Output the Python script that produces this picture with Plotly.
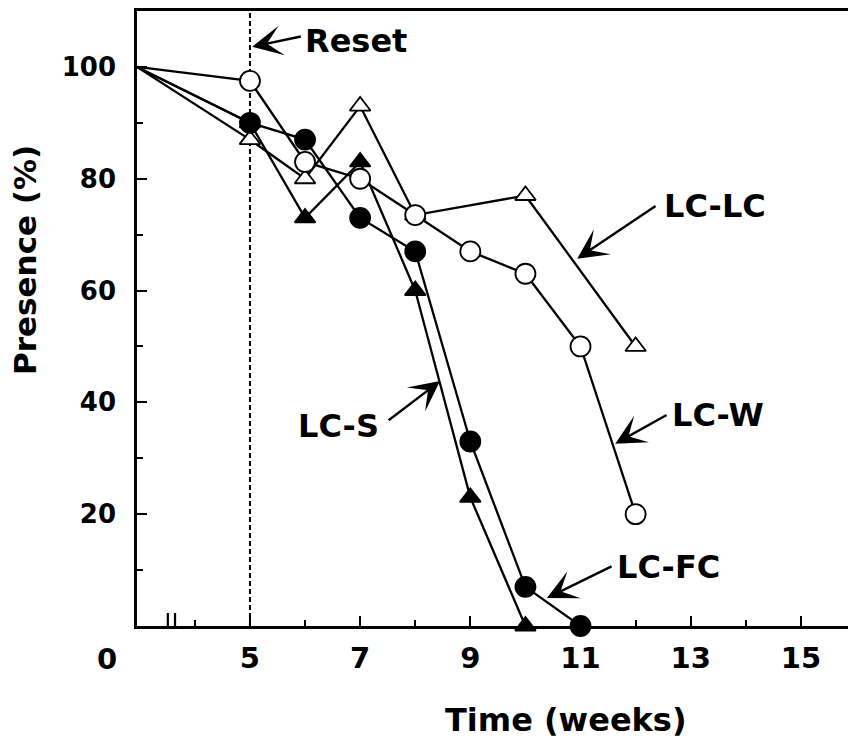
import plotly.graph_objects as go

# time in weeks (0 is drawn at the start of the broken axis)
weeks_w = [0, 5, 6, 7, 8, 9, 10, 11, 12]
lc_w = [100, 97.5, 83, 80, 73.5, 67, 63, 50, 20]

weeks_fc = [0, 5, 6, 7, 8, 9, 10, 11]
lc_fc = [100, 90, 87, 73, 67, 33, 7, 0]

weeks_lc = [0, 5, 6, 7, 8, 10, 12]
lc_lc = [100, 87, 80, 93, 73.5, 77, 50]

weeks_s = [0, 5, 6, 7, 8, 9, 10]
lc_s = [100, 90, 73, 83, 60, 23, 0]

x_tick_vals = [5, 7, 9, 11, 13, 15]
x_tick_text = ["5", "7", "9", "11", "13", "15"]
x_minor_vals = [4, 6, 8, 10, 12, 14]
y_tick_vals = [20, 40, 60, 80, 100]
y_tick_text = ["20", "40", "60", "80", "100"]
y_minor_vals = [10, 30, 50, 70, 90]
origin_label = "0"
reset_week = 5

X_START = 2.95  # where week 0 sits on the broken axis
X_END = 16.0
Y_TOP = 110.0

FONT = "DejaVu Sans"


def broken(ts):
    return [X_START if t == 0 else t for t in ts]


fig = go.Figure()

# reset line
fig.add_trace(go.Scatter(
    x=[reset_week, reset_week], y=[0, Y_TOP], mode="lines",
    line=dict(color="black", width=2, dash="5px,3px"),
    hoverinfo="skip", showlegend=False, cliponaxis=False,
))

series = [
    (weeks_lc, lc_lc, "triangle-up", "white", 18),
    (weeks_w, lc_w, "circle", "white", 20),
    (weeks_s, lc_s, "triangle-up", "black", 18),
    (weeks_fc, lc_fc, "circle", "black", 20),
]
for ts, vals, sym, fill, size in series:
    fig.add_trace(go.Scatter(
        x=broken(ts), y=vals, mode="lines",
        line=dict(color="black", width=2.3),
        hoverinfo="skip", showlegend=False, cliponaxis=False,
    ))
for ts, vals, sym, fill, size in series:
    fig.add_trace(go.Scatter(
        x=broken(ts)[1:], y=vals[1:], mode="markers",
        marker=dict(symbol=sym, size=size, color=fill,
                    line=dict(color="black", width=1.8)),
        showlegend=False, cliponaxis=False,
    ))

label_font = dict(family=FONT, size=32, color="black", weight="bold")

# labels with arrows: (text, text x, text y, tail x, tail y, tip x, tip y)
labels = [
    ("Reset", 6.93, 104.6, 5.95, 105.5, 5.04, 103.6),
    ("LC-LC", 13.44, 75.1, 12.39, 75.3, 10.94, 65.7),
    ("LC-S", 6.60, 35.8, 7.49, 36.6, 8.45, 43.8),
    ("LC-W", 13.50, 37.7, 12.59, 37.9, 11.63, 32.6),
    ("LC-FC", 12.60, 10.5, 11.59, 10.8, 10.39, 5.0),
]
for text, tx, ty, ax, ay, hx, hy in labels:
    fig.add_annotation(x=tx, y=ty, xref="x", yref="y", text=text,
                       showarrow=False, font=label_font)
    fig.add_annotation(x=hx, y=hy, ax=ax, ay=ay, xref="x", yref="y",
                       axref="x", ayref="y", text="", showarrow=True,
                       arrowhead=3, arrowsize=2.1, arrowwidth=2.4,
                       arrowcolor="black", standoff=0)

# origin label left of the axis
fig.add_annotation(x=-0.042, y=0, xref="paper", yref="paper", text=origin_label,
                   showarrow=False, xanchor="center", yanchor="top", yshift=-14,
                   font=dict(family=FONT, size=29, color="black", weight="bold"))

# axis titles
fig.add_annotation(x=0.597, y=0, xref="paper", yref="paper", text="Time (weeks)",
                   showarrow=False, xanchor="center", yanchor="middle", yshift=-94,
                   font=dict(family=FONT, size=32, color="black", weight="bold"))
fig.add_annotation(x=-0.156, y=0.595, xref="paper", yref="paper", text="Presence (%)",
                   showarrow=False, textangle=-90, xanchor="center", yanchor="middle",
                   font=dict(family=FONT, size=31, color="black", weight="bold"))

# axis break marks
for bx in [3.51, 3.64]:
    fig.add_shape(type="line", xref="x", yref="y", x0=bx, x1=bx,
                  ysizemode="pixel", yanchor=0, y0=-6, y1=13,
                  line=dict(color="black", width=2.2))

# the page puts the figure 8px in from the top-left corner
fig.update_layout(
    width=848, height=733,
    margin=dict(l=129, r=0, t=0, b=115),
    plot_bgcolor="white", paper_bgcolor="white",
    showlegend=False,
)

fig.update_xaxes(
    range=[X_START, X_END], tickvals=x_tick_vals, ticktext=x_tick_text,
    ticks="inside", ticklen=10, tickwidth=2, tickcolor="black",
    minor=dict(tickvals=x_minor_vals, ticks="inside", ticklen=6,
               tickwidth=2, tickcolor="black"),
    showline=True, linecolor="black", linewidth=2.5, mirror=True,
    showgrid=False, zeroline=False, ticklabelstandoff=4,
    tickfont=dict(family=FONT, size=29, color="black", weight="bold"),
)
fig.update_yaxes(
    range=[0, Y_TOP], tickvals=y_tick_vals, ticktext=y_tick_text,
    ticks="inside", ticklen=10, tickwidth=2, tickcolor="black",
    minor=dict(tickvals=y_minor_vals, ticks="inside", ticklen=6,
               tickwidth=2, tickcolor="black"),
    showline=True, linecolor="black", linewidth=2.5,
    showgrid=False, zeroline=False, ticklabelstandoff=13,
    tickfont=dict(family=FONT, size=26, color="black", weight="bold"),
)

fig.write_html("out.html")
